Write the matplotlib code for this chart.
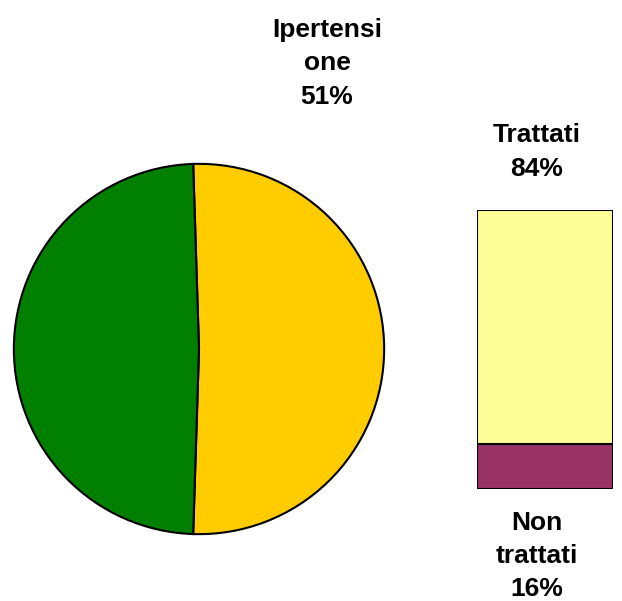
import matplotlib
matplotlib.use("Agg")
import matplotlib.pyplot as plt

pie_labels = ["Ipertensione", "Normoteso"]
pie_values = [51, 49]
pie_colors = ["#FFCC00", "#007F00"]

bar_labels = ["Non trattati", "Trattati"]
bar_values = [16, 84]
bar_colors = ["#993366", "#FFFF99"]

W, H = 622, 601
fig = plt.figure(figsize=(W / 100, H / 100), dpi=100)
fig.patch.set_facecolor("white")

# Pie
cx, cy, r = 199, 349, 187
axp = fig.add_axes([(cx - r) / W, (H - cy - r) / H, 2 * r / W, 2 * r / H])
startangle = pie_values[0] / 100 * 360 / 2
axp.pie(pie_values, colors=pie_colors, startangle=startangle, counterclock=False,
        radius=1, wedgeprops=dict(edgecolor="black", linewidth=1.5))
axp.set_xlim(-1.01, 1.01)
axp.set_ylim(-1.01, 1.01)
axp.set_axis_off()

# Stacked bar
bx0, bx1, by0, by1 = 477, 613, 210, 489
axb = fig.add_axes([bx0 / W, (H - by1) / H, (bx1 - bx0) / W, (by1 - by0) / H])
bottom = 0
for v, c in zip(bar_values, bar_colors):
    axb.bar(0, v, bottom=bottom, width=1, color=c, edgecolor="black", linewidth=1.5)
    bottom += v
axb.set_xlim(-0.5, 0.5)
axb.set_ylim(0, sum(bar_values))
axb.set_axis_off()

fkw = dict(family=["Liberation Sans", "DejaVu Sans"], fontweight="bold", fontsize=19,
           ha="center", va="center", multialignment="center", linespacing=1.5)
fig.text(327 / W, 1 - 63 / H, "Ipertensi\none\n%d%%" % pie_values[0], **fkw)
fig.text(537 / W, 1 - 152 / H, "Trattati\n%d%%" % bar_values[1], **fkw)
fig.text(537 / W, 1 - 556 / H, "Non\ntrattati\n%d%%" % bar_values[0], **fkw)

fig.savefig("out.png", dpi=100)
